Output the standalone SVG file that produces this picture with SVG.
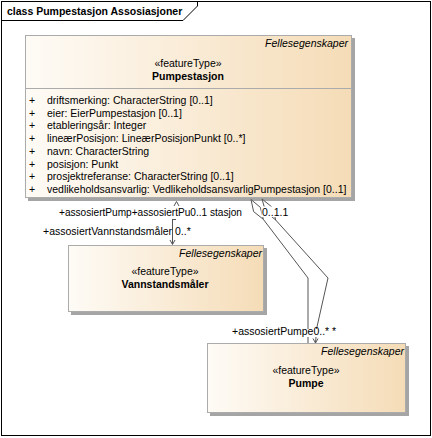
<svg xmlns="http://www.w3.org/2000/svg" width="432" height="438" viewBox="0 0 432 438">
<defs>
<linearGradient id="g" x1="0" y1="0" x2="1" y2="0">
<stop offset="0" stop-color="#FEFBF6"/>
<stop offset="1" stop-color="#F5DCB7"/>
</linearGradient>
<style>
text{font-family:"Liberation Sans",Arial,sans-serif;font-size:10.5px;fill:#000}
.b{font-weight:bold}
.i{font-style:italic}
.m{text-anchor:middle}
.e{text-anchor:end}
.box{fill:url(#g);stroke:#ABABAB;stroke-width:1}
.sh{fill:#A5A5A5}
.ln{fill:none;stroke:#555;stroke-width:1}
.dm{fill:#fff;stroke:#555;stroke-width:1}
</style>
</defs>
<rect x="0" y="0" width="432" height="438" fill="#fff"/>
<g id="frame">
<rect x="1.5" y="1.5" width="429" height="434" fill="none" stroke="#000" stroke-width="1"/>
<path d="M1.5,20.5 H183 L197.5,6 V1.5" fill="none" stroke="#000" stroke-width="1"/>
<text class="b" x="7" y="14.5">class Pumpestasjon Assosiasjoner</text>
</g>
<g id="Pumpestasjon">
<rect class="sh" x="28" y="38" width="327" height="163"/>
<rect class="box" x="25.5" y="35.5" width="326" height="162"/>
<line x1="25.5" y1="88.5" x2="351.5" y2="88.5" stroke="#ABABAB"/>
<text class="i e" x="348" y="47">Fellesegenskaper</text>
<text class="m" x="188" y="67">«featureType»</text>
<text class="b m" x="188" y="79.5">Pumpestasjon</text>
<g>
<text x="29" y="104">+</text><text x="47" y="104">driftsmerking: CharacterString [0..1]</text>
<text x="29" y="116.7">+</text><text x="47" y="116.7">eier: EierPumpestasjon [0..1]</text>
<text x="29" y="129.4">+</text><text x="47" y="129.4">etableringsår: Integer</text>
<text x="29" y="142.1">+</text><text x="47" y="142.1">lineærPosisjon: LineærPosisjonPunkt [0..*]</text>
<text x="29" y="154.8">+</text><text x="47" y="154.8">navn: CharacterString</text>
<text x="29" y="167.5">+</text><text x="47" y="167.5">posisjon: Punkt</text>
<text x="29" y="180.2">+</text><text x="47" y="180.2">prosjektreferanse: CharacterString [0..1]</text>
<text x="29" y="192.9">+</text><text x="47" y="192.9">vedlikeholdsansvarlig: VedlikeholdsansvarligPumpestasjon [0..1]</text>
</g>
</g>
<g id="Vannstandsmaaler">
<rect class="sh" x="71" y="248" width="196" height="67"/>
<rect class="box" x="68.5" y="245.5" width="195" height="66"/>
<text class="i e" x="262" y="257">Fellesegenskaper</text>
<text class="m" x="165" y="275">«featureType»</text>
<text class="b m" x="165" y="287.5">Vannstandsmåler</text>
</g>
<g id="Pumpe">
<rect class="sh" x="210" y="346" width="199" height="70"/>
<rect class="box" x="207.5" y="343.5" width="198" height="69"/>
<text class="i e" x="404" y="355">Fellesegenskaper</text>
<text class="m" x="306" y="374">«featureType»</text>
<text class="b m" x="306" y="387">Pumpe</text>
</g>
<g id="connectors">
<path class="ln" d="M174,206 L176.5,201.5 L179,206"/>
<path class="ln" d="M172.5,219 V244"/>
<path class="ln" d="M170,240 L172.5,244.5 L175,240"/>
<path class="ln" d="M172,219.5 H176"/>
<path class="dm" d="M251,199.5 L260.4,207.4 L263.3,219.3 L253.6,211.6 Z"/>
<path class="dm" d="M262,199 L272.4,207.4 L275.7,220 L265.6,211.6 Z"/>
<path class="ln" d="M263.3,219.3 L308,278 V329"/>
<path class="ln" d="M275.7,220 L328,278 L316.5,329"/>
<path class="ln" d="M308,337 V343"/>
<path class="ln" d="M316,337 L315.5,343"/>
<path class="ln" d="M313,338.5 L315.5,343 L318,338.5"/>
<text x="59" y="215.5" textLength="183" lengthAdjust="spacingAndGlyphs">+assosiertPump+assosiertPu0..1 stasjon</text>
<text x="43" y="235">+assosiertVannstandsmåler</text>
<text x="175" y="235">0..*</text>
<rect x="261.5" y="206.5" width="28" height="10.5" fill="#fff"/>
<text x="262" y="215.5">0..1.1</text>
<text x="232" y="335">+assosiertPumpe0..* *</text>
</g>
</svg>
